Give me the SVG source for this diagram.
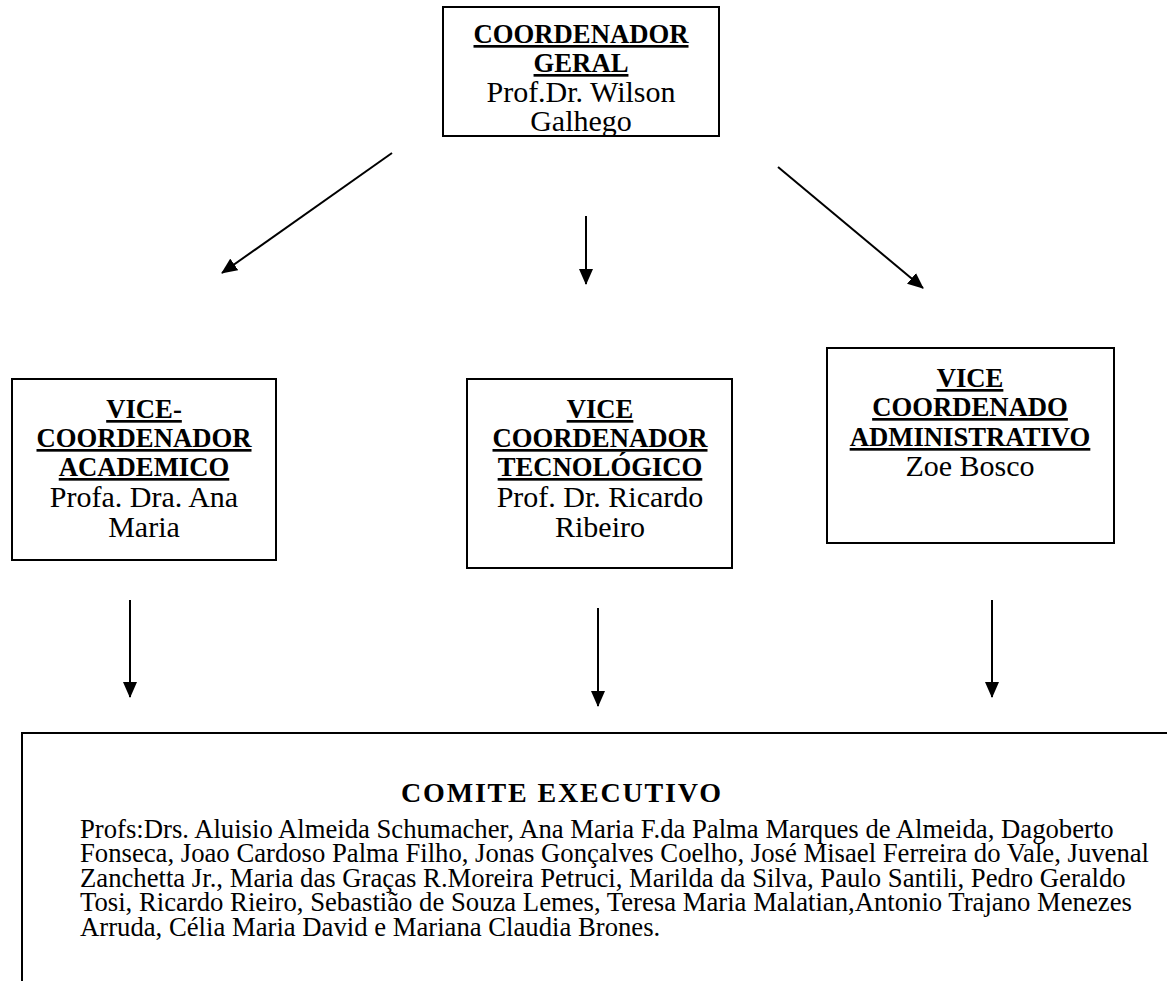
<svg xmlns="http://www.w3.org/2000/svg" width="1167" height="981" viewBox="0 0 1167 981">
<style>
.box{fill:#fff;stroke:#000;stroke-width:2}
.b{font-family:"Liberation Serif","Times New Roman",serif;font-weight:bold;font-size:26.7px;text-anchor:middle;text-decoration:underline}
.r{font-family:"Liberation Serif","Times New Roman",serif;font-size:30px;text-anchor:middle}
.body{font-family:"Liberation Serif","Times New Roman",serif;font-size:26.7px}
.head{font-family:"Liberation Serif","Times New Roman",serif;font-weight:bold;font-size:28px;text-anchor:middle}
.c{stroke:#000;stroke-width:2;fill:none;marker-end:url(#ah)}
</style>
<defs>
<marker id="ah" markerUnits="userSpaceOnUse" markerWidth="16" markerHeight="14" refX="15" refY="7" orient="auto">
<path d="M0,0 L16,7 L0,14 z" fill="#000"/>
</marker>
</defs>
<rect width="1167" height="981" fill="#fff"/>
<g id="coord-geral">
<rect class="box" x="443" y="7" width="276" height="129"/>
<text class="b" x="581" y="43">COORDENADOR</text>
<text class="b" x="581" y="72">GERAL</text>
<text class="r" x="581" y="102">Prof.Dr. Wilson</text>
<text class="r" x="581" y="131">Galhego</text>
</g>
<g id="vice-academico">
<rect class="box" x="12" y="379" width="264" height="181"/>
<text class="b" x="144" y="418">VICE-</text>
<text class="b" x="144" y="447">COORDENADOR</text>
<text class="b" x="144" y="476">ACADEMICO</text>
<text class="r" x="144" y="507">Profa. Dra. Ana</text>
<text class="r" x="144" y="537">Maria</text>
</g>
<g id="vice-tecnologico">
<rect class="box" x="467" y="379" width="265" height="189"/>
<text class="b" x="600" y="418">VICE</text>
<text class="b" x="600" y="447">COORDENADOR</text>
<text class="b" x="600" y="476">TECNOLÓGICO</text>
<text class="r" x="600" y="507">Prof. Dr. Ricardo</text>
<text class="r" x="600" y="537">Ribeiro</text>
</g>
<g id="vice-administrativo">
<rect class="box" x="827" y="348" width="287" height="195"/>
<text class="b" x="970" y="387">VICE</text>
<text class="b" x="970" y="416">COORDENADO</text>
<text class="b" x="970" y="446">ADMINISTRATIVO</text>
<text class="r" x="970" y="476">Zoe Bosco</text>
</g>
<g id="comite-executivo">
<path d="M22,990 V733 H1170" fill="none" stroke="#000" stroke-width="2"/>
<text class="head" x="561" y="802" textLength="320" lengthAdjust="spacing">COMITE EXECUTIVO</text>
<text class="body" x="80" y="838">Profs:Drs. Aluisio Almeida Schumacher, Ana Maria F.da Palma Marques de Almeida, Dagoberto</text>
<text class="body" x="80" y="862">Fonseca, Joao Cardoso Palma Filho, Jonas Gonçalves Coelho, José Misael Ferreira do Vale, Juvenal</text>
<text class="body" x="80" y="887">Zanchetta Jr., Maria das Graças R.Moreira Petruci, Marilda da Silva, Paulo Santili, Pedro Geraldo</text>
<text class="body" x="80" y="911">Tosi, Ricardo Rieiro, Sebastião de Souza Lemes, Teresa Maria Malatian,Antonio Trajano Menezes</text>
<text class="body" x="80" y="936">Arruda, Célia Maria David e Mariana Claudia Brones.</text>
</g>
<g id="connectors">
<line class="c" x1="392" y1="153" x2="222" y2="273"/>
<line class="c" x1="586" y1="216" x2="586" y2="284"/>
<line class="c" x1="778" y1="167" x2="923" y2="288"/>
<line class="c" x1="130" y1="600" x2="130" y2="697"/>
<line class="c" x1="598" y1="608" x2="598" y2="706"/>
<line class="c" x1="992" y1="600" x2="992" y2="697"/>
</g>
</svg>
